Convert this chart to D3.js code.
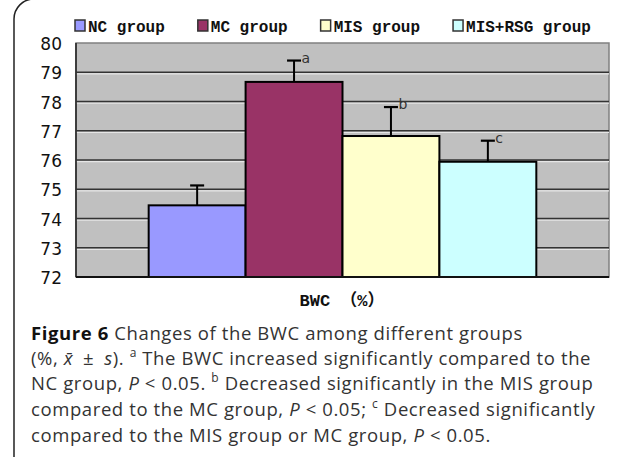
<!DOCTYPE html>
<html>
<head>
<meta charset="utf-8">
<script src="https://cdn.jsdelivr.net/npm/d3@7"></script>
<style>
  body { margin: 0; background: #fff; }
  svg { display: block; }
</style>
</head>
<body>
<div id="chart"></div>
<script>
// chart data
var groups = ["NC group", "MC group", "MIS group", "MIS+RSG group"];
var means = [74.45, 78.67, 76.82, 75.94];
var sds = [0.68, 0.73, 0.99, 0.72];
var marks = ["", "a", "b", "c"];
var colors = ["#9999FF", "#993366", "#FFFFCC", "#CCFFFF"];
var yTicks = [72, 73, 74, 75, 76, 77, 78, 79, 80];
var xLabel = "BWC \uFF08%\uFF09";

var W = 635, H = 457;
var plot = {left: 76, top: 43, right: 609, bottom: 277};

var svg = d3.select("#chart").append("svg")
  .attr("width", W)
  .attr("height", H);

// rounded frame round the figure
svg.append("rect")
  .attr("x", 14).attr("y", -1)
  .attr("width", 660).attr("height", 480)
  .attr("rx", 20).attr("ry", 20)
  .attr("fill", "none")
  .attr("stroke", "#222")
  .attr("stroke-width", 1.5);

var y = d3.scaleLinear()
  .domain([72, 80])
  .range([plot.bottom, plot.top]);

// band for the 4 bars, gap 150% on each side of the category
var bw = (plot.right - plot.left) / (groups.length + 1.5);
var x = d3.scaleBand()
  .domain(groups)
  .range([plot.left + bw * 0.75, plot.right - bw * 0.75])
  .padding(0);

// plot background
svg.append("rect")
  .attr("x", plot.left).attr("y", plot.top)
  .attr("width", plot.right - plot.left)
  .attr("height", plot.bottom - plot.top)
  .attr("fill", "#C0C0C0")
  .attr("stroke", "#808080")
  .attr("stroke-width", 1.5);

// gridlines (dark line with light edge under it)
var grid = svg.append("g");
yTicks.slice(1, -1).forEach(function(t) {
  grid.append("line")
    .attr("x1", plot.left).attr("x2", plot.right)
    .attr("y1", y(t) + 1.6).attr("y2", y(t) + 1.6)
    .attr("stroke", "#e6e6e6").attr("stroke-width", 1.2);
  grid.append("line")
    .attr("x1", plot.left).attr("x2", plot.right)
    .attr("y1", y(t)).attr("y2", y(t))
    .attr("stroke", "#333").attr("stroke-width", 1.6);
});

// bars
svg.selectAll("rect.bar")
  .data(groups)
  .enter()
  .append("rect")
  .attr("class", "bar")
  .attr("x", function(d) { return x(d); })
  .attr("y", function(d, i) { return y(means[i]); })
  .attr("width", x.bandwidth())
  .attr("height", function(d, i) { return y(72) - y(means[i]); })
  .attr("fill", function(d, i) { return colors[i]; })
  .attr("stroke", "#000")
  .attr("stroke-width", 2);

// error bars
var err = svg.append("g");
groups.forEach(function(d, i) {
  var cx = x(d) + x.bandwidth() / 2;
  err.append("line")
    .attr("x1", cx).attr("x2", cx)
    .attr("y1", y(means[i])).attr("y2", y(means[i] + sds[i]))
    .attr("stroke", "#000").attr("stroke-width", 2);
  err.append("line")
    .attr("x1", cx - 7).attr("x2", cx + 7)
    .attr("y1", y(means[i] + sds[i])).attr("y2", y(means[i] + sds[i]))
    .attr("stroke", "#000").attr("stroke-width", 2.2);
  if (marks[i]) {
    err.append("text")
      .attr("x", cx + 7.5)
      .attr("y", y(means[i] + sds[i]) + 2)
      .attr("font-family", "DejaVu Sans")
      .attr("font-size", 14)
      .attr("fill", "#333")
      .text(marks[i]);
  }
});

// axes lines
svg.append("line")
  .attr("x1", plot.left).attr("x2", plot.left)
  .attr("y1", plot.top).attr("y2", plot.bottom)
  .attr("stroke", "#333").attr("stroke-width", 1.8);
svg.append("line")
  .attr("x1", plot.left).attr("x2", plot.right)
  .attr("y1", plot.bottom).attr("y2", plot.bottom)
  .attr("stroke", "#111").attr("stroke-width", 2);

// y tick labels
svg.append("g")
  .selectAll("text")
  .data(yTicks)
  .enter()
  .append("text")
  .attr("x", 62)
  .attr("y", function(d) { return y(d) + 7; })
  .attr("text-anchor", "end")
  .attr("font-family", "DejaVu Sans")
  .attr("font-size", 17)
  .attr("fill", "#111")
  .text(function(d) { return d; });

// x axis label
svg.append("text")
  .attr("x", 342)
  .attr("y", 306)
  .attr("text-anchor", "middle")
  .attr("font-family", "Liberation Mono, Noto Sans CJK SC")
  .attr("font-weight", "bold")
  .attr("font-size", 17)
  .attr("fill", "#111")
  .text(xLabel);

// legend
var lg = svg.append("g");
var lx = 75;
groups.forEach(function(d, i) {
  lg.append("rect")
    .attr("x", lx).attr("y", 20)
    .attr("width", 10).attr("height", 11)
    .attr("fill", colors[i])
    .attr("stroke", "#333").attr("stroke-width", 1.5);
  var t = lg.append("text")
    .attr("x", lx + 13)
    .attr("y", 32)
    .attr("font-family", "Liberation Mono")
    .attr("font-weight", "bold")
    .attr("font-size", 16)
    .attr("fill", "#111")
    .text(d);
  lx = lx + 13 + t.node().getComputedTextLength() + 33;
});

// caption, one text per line
function line(yy, parts) {
  var cap = svg.append("text")
    .attr("x", 31).attr("y", yy)
    .attr("font-family", "Open Sans")
    .attr("font-size", 18.5)
    .attr("letter-spacing", 0.6)
    .attr("fill", "#333");
  parts.forEach(function(p) {
    var ts = cap.append("tspan").text(p[0]);
    if (p[1] == "b") ts.attr("font-weight", "bold").attr("fill", "#111");
    if (p[1] == "i") ts.attr("font-style", "italic");
    if (p[1] == "sup") ts.attr("font-size", 12).attr("dy", -8);
    if (p[1] == "back") ts.attr("dy", 8);
  });
}
line(340, [["Figure 6", "b"], [" Changes of the BWC among different groups"]]);
line(365, [["(%, "], ["x\u0304", "i"], ["\u2002\u00B1\u2002"], ["s", "i"], ["). "], ["a", "sup"], [" The BWC increased significantly compared to the", "back"]]);
line(390, [["NC group, "], ["P", "i"], [" < 0.05. "], ["b", "sup"], [" Decreased significantly in the MIS group", "back"]]);
line(416, [["compared to the MC group, "], ["P", "i"], [" < 0.05; "], ["c", "sup"], [" Decreased significantly", "back"]]);
line(442, [["compared to the MIS group or MC group, "], ["P", "i"], [" < 0.05."]]);
</script>
</body>
</html>
